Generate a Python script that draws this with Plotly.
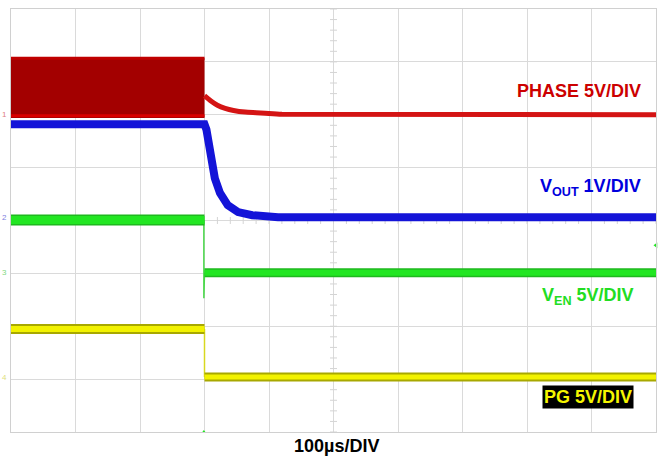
import plotly.graph_objects as go

# ---- data (vertical units = scope divisions, horizontal = time divisions, 100us/div) ----
t_on = [0.0, 3.0]                       # before turn-off
phase_high = [7.07, 7.07]
phase_low = [5.94, 5.94]
phase_t = [3.0, 3.05, 3.1, 3.2, 3.32, 3.45, 3.63, 3.8, 3.94, 4.2, 10.0]
phase_v = [6.36, 6.31, 6.26, 6.18, 6.12, 6.08, 6.05, 6.04, 6.03, 6.01, 6.00]

vout_t = [0.0, 3.0, 3.03, 3.07, 3.12, 3.16, 3.24, 3.36, 3.52, 3.74, 4.14, 10.0]
vout_v = [5.82, 5.82, 5.72, 5.45, 5.14, 4.80, 4.52, 4.29, 4.16, 4.10, 4.06, 4.06]

ven_before = [4.01, 4.01]
ven_t_after = [3.0, 10.0]
ven_after = [3.01, 3.01]
ven_edge_t = [2.99, 2.99, 3.0]
ven_edge_v = [4.01, 2.53, 3.01]

pg_before = [1.95, 1.95]
pg_t_after = [3.0, 10.0]
pg_after = [1.04, 1.04]
pg_edge_t = [3.0, 3.0]
pg_edge_v = [1.95, 1.04]

grid_minor_y = [i * 0.2 for i in range(41)]
grid_minor_x = [i * 0.2 for i in range(51)]

RED = "#d41414"
DARK_RED = "#a30000"
BLUE = "#1414d8"
GREEN = "#22e622"
YELLOW = "#f2f200"
FONT = "Liberation Sans, Arial, sans-serif"

fig = go.Figure()

# minor ticks on the center graticule lines
fig.add_trace(go.Scatter(x=[5] * len(grid_minor_y), y=grid_minor_y, mode="markers",
                         marker=dict(symbol="line-ew", size=5, line=dict(width=1, color="#d4d4d4")),
                         hoverinfo="skip", showlegend=False))
fig.add_trace(go.Scatter(x=grid_minor_x, y=[4] * len(grid_minor_x), mode="markers",
                         marker=dict(symbol="line-ns", size=5, line=dict(width=1, color="#d4d4d4")),
                         hoverinfo="skip", showlegend=False))

# PHASE switching block
fig.add_trace(go.Scatter(x=t_on + t_on[::-1], y=phase_high + phase_low[::-1], mode="lines",
                         fill="toself", fillcolor=DARK_RED, line=dict(color=DARK_RED, width=0),
                         hoverinfo="skip", showlegend=False))
fig.add_trace(go.Scatter(x=t_on, y=phase_high, mode="lines", line=dict(color="#c00000", width=3),
                         hoverinfo="skip", showlegend=False))
fig.add_trace(go.Scatter(x=t_on, y=[v + 0.04 for v in phase_low], mode="lines", line=dict(color="#d80000", width=3),
                         hoverinfo="skip", showlegend=False))
fig.add_trace(go.Scatter(x=phase_t, y=phase_v, mode="lines", line=dict(color=RED, width=5, shape="spline", smoothing=0.6),
                         hoverinfo="skip", showlegend=False))

# VOUT
fig.add_trace(go.Scatter(x=vout_t, y=vout_v, mode="lines", line=dict(color=BLUE, width=8),
                         hoverinfo="skip", showlegend=False))

# VEN
fig.add_trace(go.Scatter(x=ven_edge_t, y=ven_edge_v, mode="lines", line=dict(color="#4ad84a", width=1.5),
                         hoverinfo="skip", showlegend=False))
fig.add_trace(go.Scatter(x=t_on, y=ven_before, mode="lines", line=dict(color="#1fb81f", width=11),
                         hoverinfo="skip", showlegend=False))
fig.add_trace(go.Scatter(x=t_on, y=ven_before, mode="lines", line=dict(color=GREEN, width=8),
                         hoverinfo="skip", showlegend=False))
fig.add_trace(go.Scatter(x=ven_t_after, y=ven_after, mode="lines", line=dict(color="#1fb81f", width=9),
                         hoverinfo="skip", showlegend=False))
fig.add_trace(go.Scatter(x=ven_t_after, y=ven_after, mode="lines", line=dict(color=GREEN, width=6),
                         hoverinfo="skip", showlegend=False))

# PG
fig.add_trace(go.Scatter(x=pg_edge_t, y=pg_edge_v, mode="lines", line=dict(color="#d8d820", width=1.5),
                         hoverinfo="skip", showlegend=False))
fig.add_trace(go.Scatter(x=t_on, y=pg_before, mode="lines", line=dict(color="#a8a800", width=10),
                         hoverinfo="skip", showlegend=False))
fig.add_trace(go.Scatter(x=t_on, y=pg_before, mode="lines", line=dict(color=YELLOW, width=6),
                         hoverinfo="skip", showlegend=False))
fig.add_trace(go.Scatter(x=pg_t_after, y=pg_after, mode="lines", line=dict(color="#a8a800", width=9),
                         hoverinfo="skip", showlegend=False))
fig.add_trace(go.Scatter(x=pg_t_after, y=pg_after, mode="lines", line=dict(color=YELLOW, width=5),
                         hoverinfo="skip", showlegend=False))

# trigger markers
fig.add_trace(go.Scatter(x=[10.0], y=[3.53], mode="markers", cliponaxis=False,
                         marker=dict(symbol="triangle-left", size=5, color=GREEN),
                         hoverinfo="skip", showlegend=False))
fig.add_trace(go.Scatter(x=[2.99], y=[0.0], mode="markers", cliponaxis=False,
                         marker=dict(symbol="triangle-up", size=4, color=GREEN),
                         hoverinfo="skip", showlegend=False))

annotations = [
    dict(text="<b>PHASE 5V/DIV</b>", x=643, y=91, color="#cc0000"),
    dict(text="<b>V<sub>OUT</sub> 1V/DIV</b>", x=643, y=188, color="#0000dd"),
    dict(text="<b>V<sub>EN</sub> 5V/DIV</b>", x=636, y=296, color="#22dd22"),
]
ann = []
for a in annotations:
    ann.append(dict(text=a["text"], xref="paper", yref="paper",
                    x=(a["x"] - 11) / 645, y=(432 - a["y"]) / 423,
                    xanchor="right", yanchor="middle", showarrow=False,
                    font=dict(family=FONT, size=18, color=a["color"])))
ann.append(dict(text="<b>PG 5V/DIV</b>", xref="paper", yref="paper",
                x=(588 - 11) / 645, y=(432 - 397) / 423, xanchor="center", yanchor="middle",
                showarrow=False, bgcolor="black", borderpad=1,
                font=dict(family=FONT, size=18, color="#f5f500")))
ann.append(dict(text="<b>100µs/DIV</b>", xref="paper", yref="paper",
                x=(336 - 11) / 645, y=(432 - 446) / 423, xanchor="center", yanchor="middle",
                showarrow=False, font=dict(family=FONT, size=18, color="black")))
# channel ground markers on the left edge
for lvl, col, lab in [(6.0, "#e08080", "1"), (4.06, "#8080e0", "2"), (3.01, "#80d880", "3"), (1.04, "#e0e080", "4")]:
    ann.append(dict(text=lab, xref="paper", yref="y", x=-0.003, y=lvl, xanchor="right", yanchor="middle",
                    showarrow=False, font=dict(family=FONT, size=8, color=col)))

fig.update_layout(
    width=660, height=461,
    margin=dict(l=11, r=4, t=9, b=29),
    plot_bgcolor="white", paper_bgcolor="white",
    xaxis=dict(range=[0, 10], dtick=1, showticklabels=False, showgrid=True, gridcolor="#dadada",
               gridwidth=1, zeroline=False, showline=True, linecolor="#d0d0d0", mirror=True),
    yaxis=dict(range=[0, 8], dtick=1, showticklabels=False, showgrid=True, gridcolor="#dadada",
               gridwidth=1, zeroline=False, showline=True, linecolor="#d0d0d0", mirror=True),
    annotations=ann,
    showlegend=False,
)

fig.write_html("out.html", config={"displayModeBar": False},
               post_script="document.body.style.margin='0px';document.body.style.padding='0px';")
